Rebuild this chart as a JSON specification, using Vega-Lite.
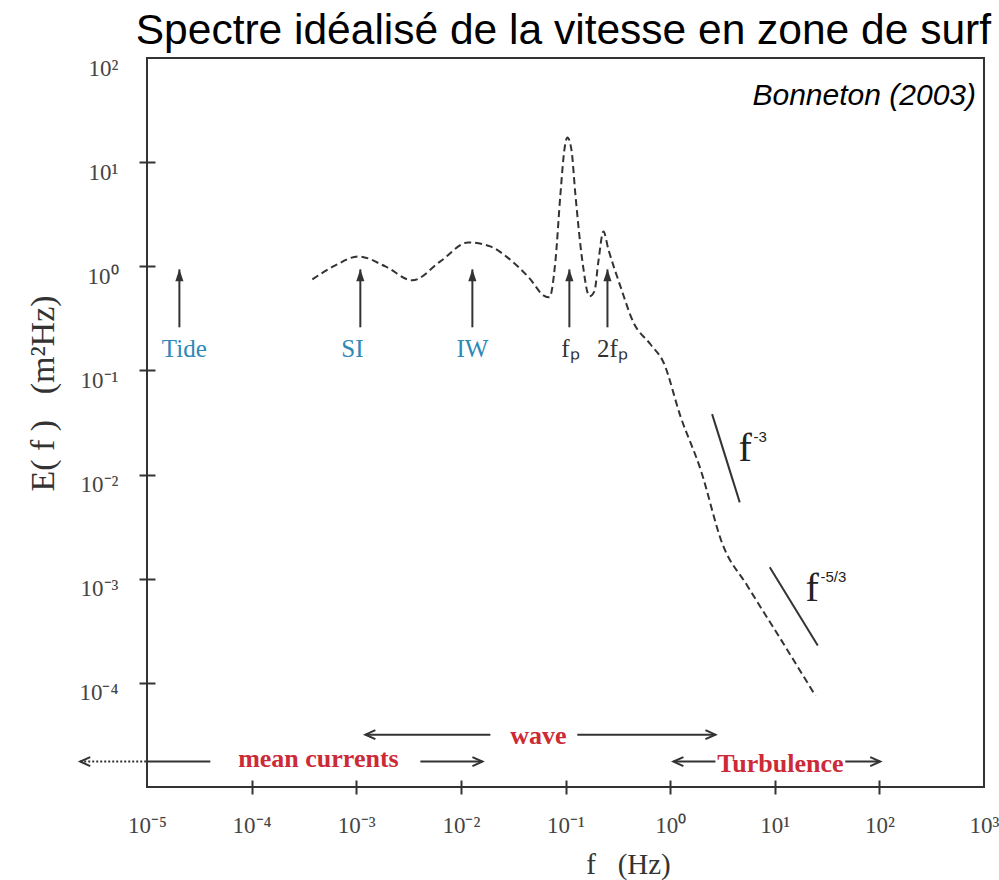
{
  "$schema": "https://vega.github.io/schema/vega-lite/v6.json",
  "width": 837,
  "height": 729,
  "autosize": {"type": "none"},
  "padding": {"left": 147, "top": 58, "right": 15, "bottom": 93},
  "background": "white",
  "config": {
    "view": {"stroke": "#333", "strokeWidth": 2},
    "font": "Liberation Serif"
  },
  "title": {
    "text": "Spectre idéalisé de la vitesse en zone de surf",
    "font": "Liberation Sans",
    "fontSize": 42.5,
    "fontWeight": "normal",
    "color": "#000",
    "anchor": "end",
    "frame": "group",
    "baseline": "alphabetic",
    "offset": 0,
    "dy": 29,
    "dx": 7
  },
  "datasets": {
    "spectrum": [
      {"f": 0.0003805, "E": 0.749}, {"f": 0.000631, "E": 1.02}, {"f": 0.001047, "E": 1.244},
      {"f": 0.001898, "E": 0.998}, {"f": 0.003438, "E": 0.733}, {"f": 0.006368, "E": 1.114},
      {"f": 0.01179, "E": 1.695}, {"f": 0.01914, "E": 1.551}, {"f": 0.02783, "E": 1.217},
      {"f": 0.04617, "E": 0.749}, {"f": 0.06147, "E": 0.526}, {"f": 0.07017, "E": 0.503},
      {"f": 0.08006, "E": 1.114}, {"f": 0.08939, "E": 4.891}, {"f": 0.09761, "E": 13.21},
      {"f": 0.1043, "E": 17.21}, {"f": 0.1139, "E": 13.21}, {"f": 0.1243, "E": 4.891},
      {"f": 0.1451, "E": 1.114}, {"f": 0.1693, "E": 0.5145}, {"f": 0.1889, "E": 0.5745},
      {"f": 0.2063, "E": 1.114}, {"f": 0.2303, "E": 2.161}, {"f": 0.2571, "E": 1.452},
      {"f": 0.3349, "E": 0.6419}, {"f": 0.4457, "E": 0.2898}, {"f": 0.6482, "E": 0.1783},
      {"f": 0.8629, "E": 0.1199}, {"f": 1.254, "E": 0.03638}, {"f": 1.949, "E": 0.01129},
      {"f": 3.162, "E": 0.002157}, {"f": 5.483, "E": 0.0008531}, {"f": 11.34, "E": 0.0002647},
      {"f": 24.5, "E": 0.00007519}
    ],
    "powerlaw": [
      {"law": "f-3", "f0": 2.52, "E0": 0.03802, "f1": 4.628, "E1": 0.005413},
      {"law": "f-5/3", "f0": 8.959, "E0": 0.001289, "f1": 25.77, "E1": 0.0002284}
    ],
    "varrows": [
      {"name": "Tide", "f": 0.0000204, "Elow": 0.2594, "Etip": 0.934},
      {"name": "SI", "f": 0.001094, "Elow": 0.2594, "Etip": 0.934},
      {"name": "IW", "f": 0.01288, "Elow": 0.2594, "Etip": 0.934},
      {"name": "fp", "f": 0.1089, "Elow": 0.2594, "Etip": 0.934},
      {"name": "2fp", "f": 0.2518, "Elow": 0.2594, "Etip": 0.934}
    ],
    "hsolid": [
      {"f0": 0.001222, "f1": 0.01914, "E": 0.0000318},
      {"f0": 0.1297, "f1": 2.711, "E": 0.0000318},
      {"f0": 0.00001, "f1": 0.0000403, "E": 0.00001754},
      {"f0": 0.0041, "f1": 0.01607, "E": 0.00001754},
      {"f0": 1.075, "f1": 2.711, "E": 0.00001754},
      {"f0": 47.2, "f1": 101.9, "E": 0.00001754}
    ],
    "hdotted": [
      {"f0": 0.0000023, "f1": 0.00001, "E": 0.00001754}
    ],
    "htips": [
      {"f": 0.001222, "E": 0.0000318, "dir": "left"},
      {"f": 2.711, "E": 0.0000318, "dir": "right"},
      {"f": 0.0000023, "E": 0.00001754, "dir": "left"},
      {"f": 0.01607, "E": 0.00001754, "dir": "right"},
      {"f": 1.075, "E": 0.00001754, "dir": "left"},
      {"f": 101.9, "E": 0.00001754, "dir": "right"}
    ],
    "regions": [
      {"label": "wave", "f": 0.0551, "E": 0.0000261},
      {"label": "mean currents", "f": 0.000435, "E": 0.00001569},
      {"label": "Turbulence", "f": 11.34, "E": 0.00001405}
    ],
    "vlabels": [
      {"label": "Tide", "kind": "regime", "f": 0.00002273, "E": 0.1338},
      {"label": "SI", "kind": "regime", "f": 0.000918, "E": 0.1338},
      {"label": "IW", "kind": "regime", "f": 0.01288, "E": 0.1338},
      {"label": "fₚ", "kind": "peak", "f": 0.1114, "E": 0.1338},
      {"label": "2fₚ", "kind": "peak", "f": 0.2808, "E": 0.1338}
    ],
    "lawbase": [
      {"label": "f", "f": 4.498, "E": 0.01347},
      {"label": "f", "f": 19.66, "E": 0.000613}
    ],
    "lawexp": [
      {"label": "-3", "f": 6.25, "E": 0.02049},
      {"label": "-5/3", "f": 27.35, "E": 0.000934}
    ],
    "source": [
      {"label": "Bonneton (2003)", "f": 1000, "E": 35.67}
    ]
  },
  "layer": [
    {
      "data": {"name": "spectrum"},
      "mark": {"type": "line", "interpolate": "monotone", "strokeDash": [7, 4], "strokeWidth": 2, "color": "#333"},
      "encoding": {
        "x": {
          "field": "f", "type": "quantitative",
          "scale": {"type": "log", "domain": [0.00001, 1000], "nice": false},
          "axis": {
            "values": [0.00001, 0.0001, 0.001, 0.01, 0.1, 1, 10, 100, 1000],
            "labelExpr": "['10⁻⁵','10⁻⁴','10⁻³','10⁻²','10⁻¹','10⁰','10¹','10²','10³'][round(log(datum.value)/LN10)+5]",
            "labelFont": "Liberation Serif", "labelFontSize": 23, "labelColor": "#444",
            "labelBaseline": "alphabetic", "labelPadding": 38, "labelFlush": false, "labelOverlap": false,
            "offset": -7, "tickSize": 14, "tickColor": "#333", "tickWidth": 2,
            "tickOpacity": {"condition": {"test": "datum.value < 0.00005 || datum.value > 500", "value": 0}, "value": 1},
            "domain": false, "grid": false,
            "title": "f\u00a0\u00a0\u00a0(Hz)", "titleFont": "Liberation Serif", "titleFontSize": 29, "titleFontWeight": "normal",
            "titleColor": "#333", "titleX": 481, "titleY": 93, "titleBaseline": "alphabetic", "titleAlign": "center"
          }
        },
        "y": {
          "field": "E", "type": "quantitative",
          "scale": {"type": "log", "domain": [0.00001, 100], "nice": false},
          "axis": {
            "values": [0.0001, 0.001, 0.01, 0.1, 1, 10, 100],
            "labelExpr": "['10⁻⁴','10⁻³','10⁻²','10⁻¹','10⁰','10¹','10²'][round(log(datum.value)/LN10)+4]",
            "labelFont": "Liberation Serif", "labelFontSize": 23, "labelColor": "#444",
            "labelAlign": "right", "labelBaseline": "alphabetic", "labelOffset": 17, "labelPadding": 21,
            "labelFlush": false, "labelOverlap": false,
            "offset": -8, "tickSize": 16, "tickColor": "#333", "tickWidth": 2,
            "tickOpacity": {"condition": {"test": "datum.value > 50", "value": 0}, "value": 1},
            "domain": false, "grid": false,
            "title": "E(\u00a0f\u00a0)\u00a0\u00a0\u00a0(m²Hz)", "titleFont": "Liberation Serif", "titleFontSize": 34, "titleFontWeight": "normal",
            "titleColor": "#333", "titleAngle": -90, "titleX": -102, "titleY": 335,
            "titleAlign": "center", "titleBaseline": "alphabetic"
          }
        }
      }
    },
    {
      "data": {"name": "powerlaw"},
      "mark": {"type": "rule", "strokeWidth": 2, "color": "#333"},
      "encoding": {
        "x": {"field": "f0", "type": "quantitative"},
        "x2": {"field": "f1"},
        "y": {"field": "E0", "type": "quantitative"},
        "y2": {"field": "E1"}
      }
    },
    {
      "data": {"name": "varrows"},
      "mark": {"type": "rule", "strokeWidth": 2, "color": "#333"},
      "encoding": {
        "x": {"field": "f", "type": "quantitative"},
        "y": {"field": "Elow", "type": "quantitative"},
        "y2": {"field": "Etip"}
      }
    },
    {
      "data": {"name": "varrows"},
      "mark": {"type": "point", "shape": "M0,0L0.34,1L-0.34,1Z", "size": 576, "filled": true, "color": "#333", "opacity": 1},
      "encoding": {
        "x": {"field": "f", "type": "quantitative"},
        "y": {"field": "Etip", "type": "quantitative"}
      }
    },
    {
      "data": {"name": "hsolid"},
      "mark": {"type": "rule", "strokeWidth": 2, "color": "#333"},
      "encoding": {
        "x": {"field": "f0", "type": "quantitative"},
        "x2": {"field": "f1"},
        "y": {"field": "E", "type": "quantitative"}
      }
    },
    {
      "data": {"name": "hdotted"},
      "mark": {"type": "rule", "strokeWidth": 2, "color": "#333", "strokeDash": [2, 2]},
      "encoding": {
        "x": {"field": "f0", "type": "quantitative"},
        "x2": {"field": "f1"},
        "y": {"field": "E", "type": "quantitative"}
      }
    },
    {
      "data": {"name": "htips"},
      "mark": {"type": "point", "size": 400, "filled": false, "strokeWidth": 2, "color": "#333", "opacity": 1},
      "encoding": {
        "x": {"field": "f", "type": "quantitative"},
        "y": {"field": "E", "type": "quantitative"},
        "shape": {
          "field": "dir", "type": "nominal",
          "scale": {"domain": ["left", "right"], "range": ["M1,-0.45L0,0L1,0.45", "M-1,-0.45L0,0L-1,0.45"]},
          "legend": null
        }
      }
    },
    {
      "data": {"name": "regions"},
      "mark": {"type": "text", "font": "Liberation Serif", "fontSize": 26, "fontWeight": "bold", "color": "#cc2a36", "align": "center", "baseline": "alphabetic"},
      "encoding": {
        "x": {"field": "f", "type": "quantitative"},
        "y": {"field": "E", "type": "quantitative"},
        "text": {"field": "label"}
      }
    },
    {
      "data": {"name": "vlabels"},
      "mark": {"type": "text", "font": "Liberation Serif", "fontSize": 25, "align": "center", "baseline": "alphabetic"},
      "encoding": {
        "x": {"field": "f", "type": "quantitative"},
        "y": {"field": "E", "type": "quantitative"},
        "text": {"field": "label"},
        "color": {
          "field": "kind", "type": "nominal",
          "scale": {"domain": ["regime", "peak"], "range": ["#2e88b8", "#333333"]},
          "legend": null
        }
      }
    },
    {
      "data": {"name": "lawbase"},
      "mark": {"type": "text", "font": "Liberation Serif", "fontSize": 40, "color": "#222", "align": "left", "baseline": "alphabetic"},
      "encoding": {
        "x": {"field": "f", "type": "quantitative"},
        "y": {"field": "E", "type": "quantitative"},
        "text": {"field": "label"}
      }
    },
    {
      "data": {"name": "lawexp"},
      "mark": {"type": "text", "font": "Liberation Sans", "fontSize": 15, "color": "#222", "align": "left", "baseline": "alphabetic"},
      "encoding": {
        "x": {"field": "f", "type": "quantitative"},
        "y": {"field": "E", "type": "quantitative"},
        "text": {"field": "label"}
      }
    },
    {
      "data": {"name": "source"},
      "mark": {"type": "text", "font": "Liberation Sans", "fontSize": 30, "fontStyle": "italic", "color": "#000", "align": "right", "baseline": "alphabetic", "dx": -8},
      "encoding": {
        "x": {"field": "f", "type": "quantitative"},
        "y": {"field": "E", "type": "quantitative"},
        "text": {"field": "label"}
      }
    }
  ]
}
